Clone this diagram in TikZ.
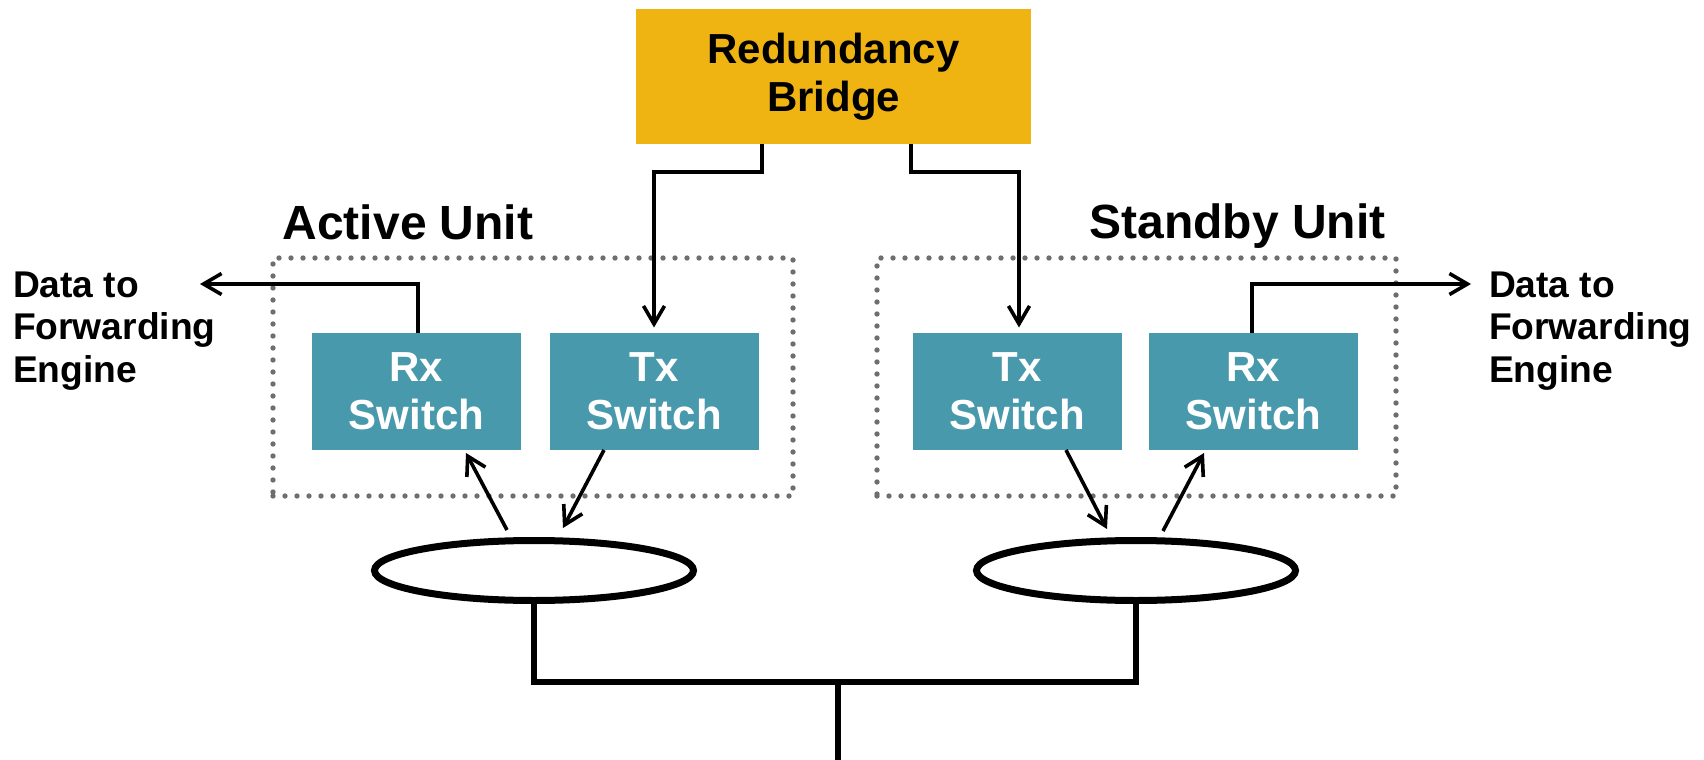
\documentclass[tikz,border=0pt]{standalone}
\usepackage{fontspec}
\setmainfont{Liberation Sans}
\usepackage{xcolor}
\usetikzlibrary{shapes.geometric,arrows.meta,calc}

\definecolor{bridgegold}{RGB}{239,180,18}
\definecolor{switchteal}{RGB}{72,153,172}
\definecolor{dotgray}{RGB}{110,110,110}

\begin{document}
\begin{tikzpicture}[x=0.5pt,y=-0.5pt,
      every node/.style = {inner sep=0pt, outer sep=0pt},
      bridgebox/.style = {fill=bridgegold, minimum width=197.5pt, minimum height=67.5pt,
        align=center, font=\fontsize{21}{24}\selectfont\bfseries},
      switchbox/.style = {fill=switchteal, text=white, minimum width=104.5pt, minimum height=58.5pt,
        align=center, font=\fontsize{21}{24}\selectfont\bfseries},
      unitbox/.style = {draw=dotgray, line width=2.7pt, dash pattern=on 0pt off 6pt,
        line cap=round, minimum height=119pt},
      unitlabel/.style = {anchor=base, font=\fontsize{24}{28}\selectfont\bfseries},
      datalabel/.style = {anchor=west, align=left, font=\fontsize{18.6}{21.25}\selectfont\bfseries},
      ring/.style = {ellipse, draw, line width=3.5pt, minimum width=159.5pt, minimum height=30pt},
      arr/.style = {-{Straight Barb[length=9pt,width=10.5pt]}, line width=1.8pt},
      bus/.style = {line width=2.75pt}
      ]
      \useasboundingbox (0,0) rectangle (1704,760);

      % units
      \node[unitbox, minimum width=260pt] (activebox) at (533,377) {};
      \node[unitbox, minimum width=259.5pt] (standbybox) at (1136.5,377) {};
      \node[unitlabel] (activelbl) at (408,239) {Active Unit};
      \node[unitlabel] (standbylbl) at (1237.5,238) {Standby Unit};

      \node[bridgebox] (bridge) at (833.5,76.5) {Redundancy\\Bridge};

      \node[switchbox] (rxA) at (416.5,391.5) {Rx\\Switch};
      \node[switchbox] (txA) at (654,391.5) {Tx\\Switch};
      \node[switchbox] (txS) at (1017,391.5) {Tx\\Switch};
      \node[switchbox] (rxS) at (1253.5,391.5) {Rx\\Switch};

      \node[datalabel] (dataA) at (13,327) {Data to\\Forwarding\\\raisebox{0pt}[\height][0pt]{Engine}};
      \node[datalabel] (dataS) at (1489,327) {Data to\\Forwarding\\\raisebox{0pt}[\height][0pt]{Engine}};

      \node[ring] (ringA) at (534,570.5) {};
      \node[ring] (ringS) at (1136,570.5) {};

      \coordinate (outA) at (200,284);
      \coordinate (outS) at (1471,284);
      \coordinate (busmid) at (838,682);
      \coordinate (uplink) at (838,764);

      % bridge to the Tx switches
      \draw[arr] ($(bridge.south)+(-71.5,0)$) -- ++(0,28) -| ([yshift=2.75pt]txA.north);
      \draw[arr] ($(bridge.south)+(77.5,0)$) -- ++(0,28) -| ([xshift=1pt,yshift=2.75pt]txS.north);

      % data out
      \draw[arr] ([xshift=0.75pt]rxA.north) |- (outA);
      \draw[arr] ([xshift=-0.75pt]rxS.north) |- (outS);

      \draw[arr] ($(ringA.north)+(-27,-10.5)$) -- ($(rxA.south)+(49.5,3)$);
      \draw[arr] ($(txA.south)+(-50,0)$) -- ($(ringA.north)+(29,-12.5)$);
      \draw[arr] ($(txS.south)+(49,0)$) -- ($(ringS.north)+(-29,-11.5)$);
      \draw[arr] ($(ringS.north)+(27,-9.5)$) -- ($(rxS.south)+(-49.5,3)$);

      \draw[bus] (ringA.south) -- ++(0,81.5) -| (ringS.south);
      \draw[bus] (busmid) -- (uplink);
\end{tikzpicture}
\end{document}
